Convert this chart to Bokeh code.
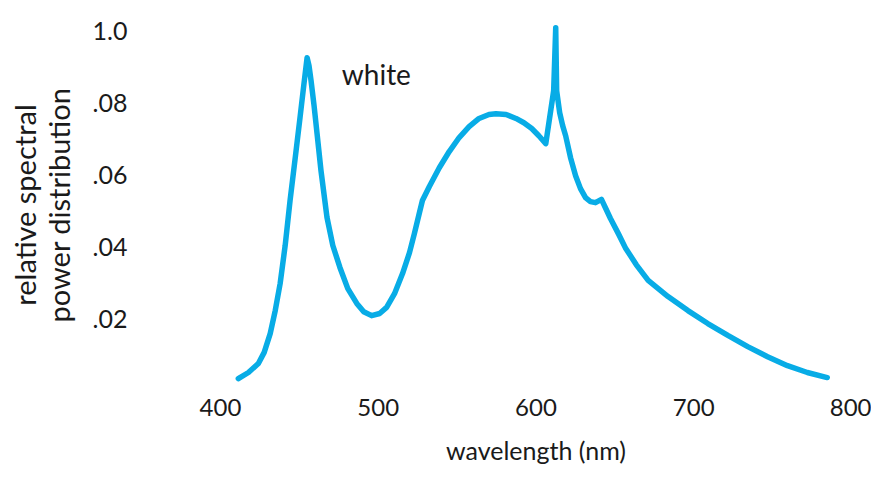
from bokeh.plotting import figure
from bokeh.models import FixedTicker, Range1d, Label
from bokeh.embed import file_html
from bokeh.resources import INLINE

# Data
wavelength = [411.3, 417.7, 424.0, 427.7, 431.5, 434.7, 437.8, 441.0, 444.1, 447.3,
              450.4, 453.0, 454.9, 456.1, 457.4, 459.3, 461.2, 463.7, 467.5, 471.2,
              475.7, 480.7, 486.4, 490.8, 495.8, 500.9, 505.3, 510.3, 515.4, 519.8,
              522.9, 526.1, 528.0, 532.4, 538.7, 545.0, 551.3, 557.6, 563.9, 570.2,
              574.6, 581.0, 587.3, 592.3, 597.3, 601.8, 606.2, 611.2, 612.5, 613.1,
              615.0, 616.9, 618.8, 621.9, 625.1, 628.2, 631.4, 634.5, 637.7, 641.5,
              644.0, 647.2, 652.2, 656.6, 663.5, 671.1, 683.7, 696.3, 708.9, 721.6,
              734.2, 746.8, 759.4, 772.0, 784.6]
rel_power = [0.0033, 0.0050, 0.0075, 0.0106, 0.0158, 0.0222, 0.0297, 0.0403, 0.0528, 0.0644,
             0.0758, 0.0856, 0.0925, 0.0903, 0.0861, 0.0792, 0.0714, 0.0611, 0.0481, 0.0403,
             0.0342, 0.0283, 0.0242, 0.0219, 0.0208, 0.0214, 0.0231, 0.0269, 0.0325, 0.0383,
             0.0436, 0.0494, 0.0528, 0.0567, 0.0619, 0.0664, 0.0703, 0.0733, 0.0756, 0.0767,
             0.0769, 0.0767, 0.0756, 0.0744, 0.0728, 0.0708, 0.0686, 0.0833, 0.1008, 0.0833,
             0.0772, 0.0736, 0.0708, 0.0647, 0.0597, 0.0561, 0.0536, 0.0525, 0.0522, 0.0531,
             0.0508, 0.0478, 0.0436, 0.0397, 0.0350, 0.0306, 0.0261, 0.0222, 0.0186, 0.0153,
             0.0122, 0.0094, 0.0069, 0.0050, 0.0036]

x_ticks = [400, 500, 600, 700, 800]
x_tick_labels = ["400", "500", "600", "700", "800"]
y_ticks = [0.02, 0.04, 0.06, 0.08, 0.10]
y_tick_labels = [".02", ".04", ".06", ".08", "1.0"]

FONT = "Lato"
TXT = "#1a1a1a"
CYAN = "#08ACE6"

p = figure(frame_width=631, frame_height=371, output_backend="svg", toolbar_location=None,
           x_range=Range1d(400, 800), y_range=Range1d(0, 0.1031),
           min_border_left=220, min_border_right=20, min_border_top=19, min_border_bottom=83)
p.outline_line_color = None
p.grid.grid_line_color = None
p.background_fill_color = "white"
p.border_fill_color = "white"

p.line(wavelength, rel_power, line_color=CYAN, line_width=5.5, line_join="round", line_cap="round")

# axes styling
p.xaxis.ticker = FixedTicker(ticks=x_ticks)
p.xaxis.major_label_overrides = dict(zip(x_ticks, x_tick_labels))
p.yaxis.ticker = FixedTicker(ticks=y_ticks)
p.yaxis.major_label_overrides = dict(zip(y_ticks, y_tick_labels))
for ax in (p.xaxis, p.yaxis):
    ax.axis_line_color = None
    ax.major_tick_line_color = None
    ax.minor_tick_line_color = None
    ax.major_tick_out = 0
    ax.major_tick_in = 0
    ax.major_label_text_font = FONT
    ax.major_label_text_color = TXT
    ax.axis_label_text_font = "Lato"
    ax.axis_label_text_font_style = "normal"
    ax.axis_label_text_color = TXT

p.xaxis.major_label_text_font_size = "24px"
p.xaxis.major_label_standoff = 8
p.yaxis.major_label_text_font_size = "25px"
p.yaxis.major_label_standoff = 93
p.xaxis.axis_label = "wavelength (nm)"
p.xaxis.axis_label_text_font_size = "25px"
p.xaxis.axis_label_standoff = 16
p.yaxis.axis_label = "relative spectral\npower distribution"
p.yaxis.axis_label_text_font_size = "29px"
p.yaxis.axis_label_text_line_height = 0.95
p.yaxis.axis_label_standoff = 14

p.add_layout(Label(x=476.9, y=0.088, text="white", text_font="Lato", text_font_size="28px",
                   text_color=TXT, text_baseline="middle"))

open("out.html", "w").write(file_html(p, INLINE))
